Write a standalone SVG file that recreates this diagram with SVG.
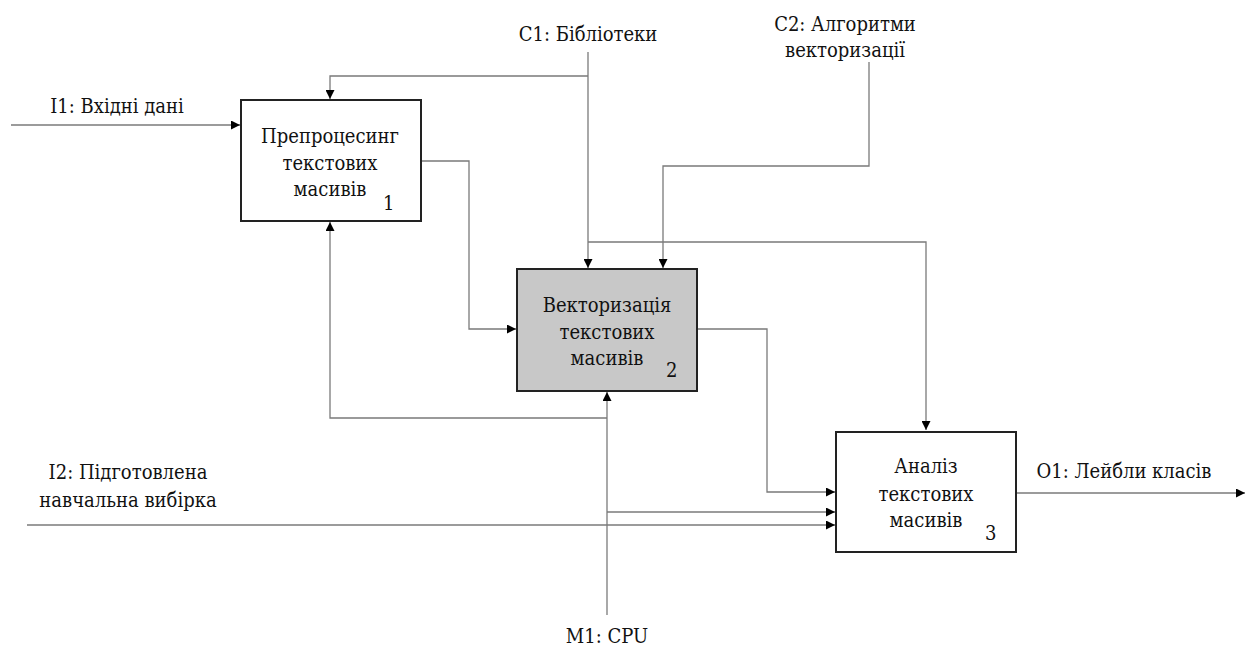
<svg xmlns="http://www.w3.org/2000/svg" width="1249" height="646" viewBox="0 0 1249 646">
<defs>
<marker id="ah" viewBox="0 0 10 10" refX="10" refY="5" markerWidth="9" markerHeight="9" markerUnits="userSpaceOnUse" orient="auto">
<path d="M0,0 L10,5 L0,10 Z" fill="#000"/>
</marker>
<style>
text{font-family:"DejaVu Serif Condensed","DejaVu Serif",serif;font-size:20px;fill:#111}
.c{text-anchor:middle}
.box{stroke:#222;stroke-width:2}
.ln{fill:none;stroke:#7a7a7a;stroke-width:1.3}
.ar{marker-end:url(#ah)}
</style>
</defs>
<rect width="1249" height="646" fill="#fff"/>
<g id="connectors">
<path class="ln ar" d="M11,125 H240"/>
<path class="ln" d="M588,52 V76"/>
<path class="ln ar" d="M588,76 H330 V99"/>
<path class="ln ar" d="M588,76 V268"/>
<path class="ln ar" d="M588,242 H926 V430"/>
<path class="ln ar" d="M869,62 V166 H663 V268"/>
<path class="ln ar" d="M421,161 H469 V329 H516"/>
<path class="ln ar" d="M697,329 H767 V492 H835"/>
<path class="ln ar" d="M607,615 V392"/>
<path class="ln ar" d="M607,418 H330 V222"/>
<path class="ln ar" d="M607,512 H835"/>
<path class="ln ar" d="M27,525 H835"/>
<path class="ln ar" d="M1016,493 H1245"/>
</g>
<g id="labels">
<text x="117" y="113" class="c">I1: Вхідні дані</text>
<text x="588" y="41" class="c">C1: Бібліотеки</text>
<text x="845" y="31" class="c">C2: Алгоритми</text>
<text x="845" y="57" class="c">векторизації</text>
<text x="128" y="479" class="c">I2: Підготовлена</text>
<text x="128" y="507" class="c">навчальна вибірка</text>
<text x="1124" y="478" class="c">O1: Лейбли класів</text>
<text x="607" y="643" class="c">M1: CPU</text>
</g>
<g id="node1">
<rect class="box" x="241" y="100" width="180" height="121" fill="#fff"/>
<text x="330" y="143" class="c">Препроцесинг</text>
<text x="330" y="170" class="c">текстових</text>
<text x="330" y="196" class="c">масивів</text>
<text x="383" y="210">1</text>
</g>
<g id="node2">
<rect class="box" x="517" y="269" width="180" height="122" fill="#c8c8c8"/>
<text x="607" y="312" class="c">Векторизація</text>
<text x="607" y="339" class="c">текстових</text>
<text x="607" y="365" class="c">масивів</text>
<text x="666" y="377">2</text>
</g>
<g id="node3">
<rect class="box" x="836" y="432" width="180" height="120" fill="#fff"/>
<text x="926" y="473" class="c">Аналіз</text>
<text x="926" y="501" class="c">текстових</text>
<text x="926" y="527" class="c">масивів</text>
<text x="985" y="540">3</text>
</g>
</svg>
